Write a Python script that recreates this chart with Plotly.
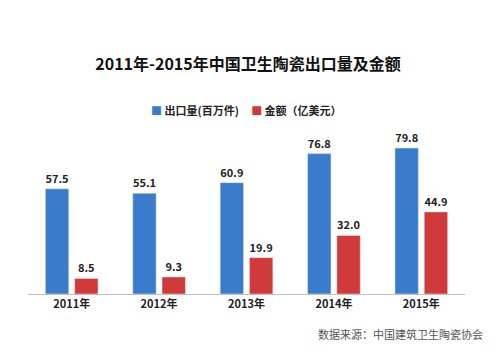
import plotly.graph_objects as go

years = ["2011年", "2012年", "2013年", "2014年", "2015年"]
export_qty = [57.5, 55.1, 60.9, 76.8, 79.8]
export_val = [8.5, 9.3, 19.9, 32.0, 44.9]
series_names = ["出口量(百万件)", "金额（亿美元）"]

FONT = "Noto Sans CJK SC"
BLUE = "#3A7CCB"
RED = "#D03A3A"

fig = go.Figure()
fig.add_trace(go.Bar(
    x=years, y=export_qty, name=series_names[0], marker_color=BLUE,
    text=[f"{v:.1f}" for v in export_qty], textposition="outside",
    textfont=dict(family=FONT, size=11, color="#222", weight="bold"), cliponaxis=False,
))
fig.add_trace(go.Bar(
    x=years, y=export_val, name=series_names[1], marker_color=RED,
    text=[f"{v:.1f}" for v in export_val], textposition="outside",
    textfont=dict(family=FONT, size=11, color="#222", weight="bold"), cliponaxis=False,
))

fig.update_layout(
    width=500, height=354,
    margin=dict(l=28, r=35, t=134, b=60),
    paper_bgcolor="white", plot_bgcolor="white",
    barmode="group", bargap=0.33, bargroupgap=0.2,
    title=dict(text="<b>2011年-2015年中国卫生陶瓷出口量及金额</b>",
               x=0.496, xanchor="center", y=0.817, yanchor="middle",
               font=dict(family=FONT, size=16, color="#111")),
    showlegend=False,
    font=dict(family=FONT),
)
fig.update_xaxes(showline=True, linecolor="#BFBFBF", linewidth=1, ticks="",
                 tickfont=dict(family=FONT, size=11, color="#222", weight="bold"))
fig.update_yaxes(range=[0, 87.5], visible=False, showgrid=False)

legend_text = (
    f"<span style='color:{BLUE}'>■</span> <b>{series_names[0]}</b>"
    f"&nbsp;&nbsp;&nbsp;&nbsp;&nbsp;"
    f"<span style='color:{RED}'>■</span> <b>{series_names[1]}</b>"
)
fig.add_annotation(text=legend_text, xref="paper", yref="paper",
                   x=0.5, xanchor="center", y=1.15, yanchor="middle", showarrow=False,
                   font=dict(family=FONT, size=11, color="#222"))

fig.add_annotation(text="数据来源：中国建筑卫生陶瓷协会", xref="paper", yref="paper",
                   x=1.046, xanchor="right", y=-0.25, yanchor="middle", showarrow=False,
                   font=dict(family=FONT, size=11, color="#555"))

fig.write_html("out.html")
